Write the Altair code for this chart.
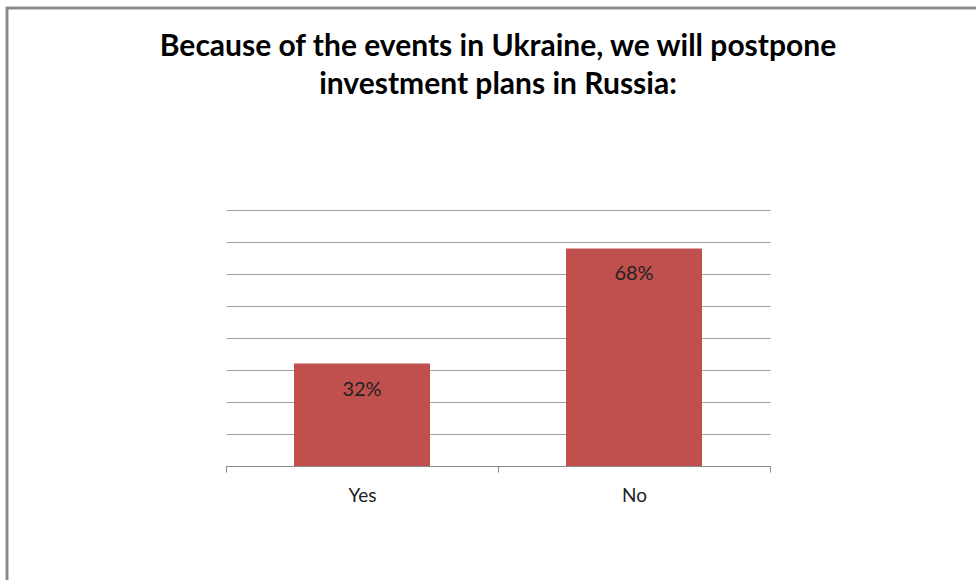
import altair as alt
import pandas as pd

categories = ["Yes", "No"]
values = [0.32, 0.68]
labels = ["32%", "68%"]
grid_values = [0.0, 0.1, 0.2, 0.3, 0.4, 0.5, 0.6, 0.7, 0.8]
title_lines = ["Because of the events in Ukraine, we will postpone", "investment plans in Russia:"]

df = pd.DataFrame({"cat": categories, "val": values, "label": labels})

FONT = "Lato"

x_scale = alt.Scale(paddingInner=0, paddingOuter=0)
y_scale = alt.Scale(domain=[0, 0.8], nice=False)

x_enc = alt.X(
    "cat:N",
    sort=categories,
    scale=x_scale,
    axis=alt.Axis(
        title=None,
        labelAngle=0,
        labelFont=FONT,
        labelFontSize=19,
        labelColor="#222222",
        labelPadding=14,
        tickBand="extent",
        tickSize=6,
        tickColor="#888888",
        domainColor="#888888",
        grid=False,
    ),
)
y_enc = alt.Y(
    "val:Q",
    scale=y_scale,
    axis=alt.Axis(
        title=None,
        values=grid_values,
        labels=False,
        ticks=False,
        domain=False,
        grid=True,
        gridColor="#A0A0A0",
        gridWidth=1,
    ),
)

base = alt.Chart(df)

bars = base.mark_bar(color="#C0504D", width=alt.RelativeBandSize(0.5)).encode(x=x_enc, y=y_enc)

text = base.mark_text(
    baseline="middle", dy=26, font=FONT, fontSize=20, color="#222222"
).encode(x=x_enc, y=y_enc, text="label:N")

border = base.mark_rect(
    fill=None, stroke="#888888", strokeWidth=2.5
).encode(
    x=alt.value(-219), x2=alt.value(900), y=alt.value(-202), y2=alt.value(500)
)

chart = (
    alt.layer(bars, text, border)
    .properties(
        width=544,
        height=256,
        padding={"left": 226, "top": 210, "right": 206, "bottom": 114},
        autosize=alt.AutoSizeParams(type="none"),
        title=alt.TitleParams(
            text=title_lines,
            font=FONT,
            fontSize=30,
            fontWeight="bold",
            color="#000000",
            anchor="middle",
            lineHeight=38,
            offset=-93,
        ),
    )
    .configure(background="white")
    .configure_view(strokeWidth=0, stroke="transparent")
)

chart.save("out.html", embed_options={"renderer": "svg", "actions": False})
